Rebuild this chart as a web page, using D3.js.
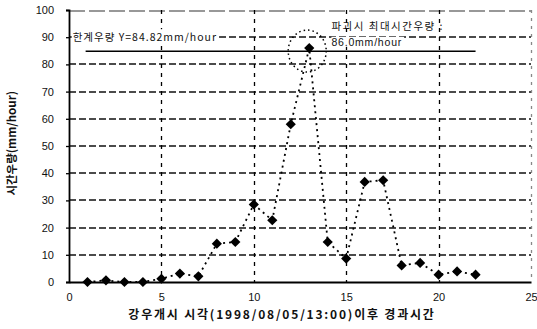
<!DOCTYPE html>
<html>
<head>
<meta charset="utf-8">
<script src="https://cdn.jsdelivr.net/npm/d3@7"></script>
<style>
  body { margin: 0; background: #fff; }
  svg { display: block; font-family: "Liberation Sans", Arial, sans-serif; }
  .kr { font-family: "Noto Sans CJK KR", "Noto Sans", sans-serif; }
</style>
</head>
<body>
<div id="chart"></div>
<script>
// elapsed hours since rain start and hourly rainfall (mm/hour)
const hours = [1, 2, 3, 4, 5, 6, 7, 8, 9, 10, 11, 12, 13, 14, 15, 16, 17, 18, 19, 20, 21, 22];
const rainfall = [0, 0.6, 0, 0, 1.2, 3.1, 2.1, 14.1, 14.7, 28.5, 22.7, 58, 86, 14.7, 8.6, 36.8, 37.4, 6.1, 7, 2.7, 3.9, 2.7];
const xTicks = [0, 5, 10, 15, 20, 25];
const yTicks = [0, 10, 20, 30, 40, 50, 60, 70, 80, 90, 100];
const threshold = 84.82;
const thresholdSpan = [0.9, 22];
const peakHour = 13;
const peakValue = 86.0;

const W = 537, H = 329;
const margin = { top: 10, right: 6, bottom: 47, left: 69 };
const width = W - margin.left - margin.right;
const height = H - margin.top - margin.bottom;

const svg = d3.select("#chart").append("svg")
  .attr("width", W).attr("height", H);
const g = svg.append("g")
  .attr("transform", `translate(${margin.left},${margin.top})`);

const x = d3.scaleLinear().domain([0, 25]).range([0, width]);
const y = d3.scaleLinear().domain([0, 100]).range([height, 0]);

// dashed grid
g.append("g").attr("class", "grid-h")
  .selectAll("line")
  .data(yTicks.filter((d) => d > 0))
  .join("line")
  .attr("x1", 0).attr("x2", width)
  .attr("y1", (d) => Math.round(y(d)) + (d === 100 ? 1 : 0))
  .attr("y2", (d) => Math.round(y(d)) + (d === 100 ? 1 : 0))
  .style("stroke", (d) => (d === 100 ? "#777" : "#111"))
  .style("stroke-width", "1.7px")
  .style("stroke-dasharray", (d) => (d === 100 ? "16,4" : "7,3"));

g.append("g").attr("class", "grid-v")
  .selectAll("line")
  .data(xTicks.filter((d) => d > 0))
  .join("line")
  .attr("x1", (d) => Math.round(x(d)) + 0.5).attr("x2", (d) => Math.round(x(d)) + 0.5)
  .attr("y1", 0).attr("y2", height)
  .style("stroke", (d) => (d === 25 ? "#888" : "#000"))
  .style("stroke-width", "1.3px")
  .style("stroke-dasharray", (d) => (d === 25 ? "3,5" : "4,5"));

// axes
const xAxis = g.append("g")
  .attr("transform", `translate(0,${height})`)
  .call(d3.axisBottom(x).tickValues(xTicks).tickSize(0).tickPadding(11));
const yAxis = g.append("g")
  .call(d3.axisLeft(y).tickValues(yTicks).tickSize(3).tickPadding(12));
[xAxis, yAxis].forEach((a) => {
  a.selectAll("text").style("font-size", "11px").attr("fill", "#111");
  a.select(".domain").attr("stroke", "#000").attr("stroke-width", 1.8);
});
yAxis.selectAll(".tick line").attr("stroke", "#000").attr("stroke-width", 1.3);

// threshold line
g.append("line")
  .attr("x1", x(thresholdSpan[0])).attr("x2", x(thresholdSpan[1]))
  .attr("y1", y(threshold)).attr("y2", y(threshold))
  .attr("stroke", "#000").attr("stroke-width", 1.6);

// threshold label on a white patch so the 90 grid line is hidden
const lbl = g.append("text")
  .attr("class", "kr")
  .attr("x", x(0.2)).attr("y", y(90) + 4)
  .style("font-size", "10.5px")
  .style("letter-spacing", "1px")
  .attr("fill", "#111")
  .text(`한계우량 Y=${threshold}mm/hour`);
const bb = lbl.node().getBBox();
g.insert("rect", () => lbl.node())
  .attr("x", bb.x - 1).attr("y", bb.y)
  .attr("width", bb.width + 3).attr("height", bb.height)
  .attr("fill", "#fff");

// dotted connecting line
const pts = hours.map((h, i) => [h, rainfall[i]]);
g.append("path")
  .datum(pts)
  .attr("fill", "none")
  .attr("stroke", "#000")
  .attr("stroke-width", 1.8)
  .attr("stroke-dasharray", "2,4")
  .attr("d", d3.line().x((d) => x(d[0])).y((d) => y(d[1])));

// diamond markers
g.selectAll("path.pt")
  .data(pts)
  .join("path")
  .attr("class", "pt")
  .attr("transform", (d) => `translate(${x(d[0])},${y(d[1])}) rotate(45)`)
  .attr("d", "M-3.6,-3.6H3.6V3.6H-3.6Z")
  .attr("fill", "#000");

// dotted circle around the peak
g.append("ellipse")
  .attr("cx", x(peakHour) - 2).attr("cy", y(peakValue) + 3)
  .attr("rx", 19).attr("ry", 21)
  .attr("fill", "none")
  .attr("stroke", "#000")
  .attr("stroke-width", 1.5)
  .attr("stroke-dasharray", "1.5,3");

// peak annotation
g.append("text")
  .attr("class", "kr")
  .attr("x", x(14.2)).attr("y", y(94) + 4)
  .style("font-size", "10.5px")
  .style("letter-spacing", "1.5px")
  .attr("fill", "#111")
  .text("파괴시 최대시간우량 :");
const ann2 = g.append("text")
  .attr("x", x(14.2)).attr("y", y(88.3) + 4)
  .style("font-size", "10.5px")
  .style("letter-spacing", "0.8px")
  .attr("fill", "#111")
  .text(`${peakValue.toFixed(1)}mm/hour`);
const bb2 = ann2.node().getBBox();
g.insert("rect", () => ann2.node())
  .attr("x", bb2.x).attr("y", bb2.y + 1)
  .attr("width", bb2.width + 2).attr("height", bb2.height - 2)
  .attr("fill", "#fff");

// axis titles
svg.append("text")
  .attr("class", "kr")
  .attr("x", 282).attr("y", 319)
  .attr("text-anchor", "middle")
  .style("font-size", "12px")
  .style("letter-spacing", "1.8px")
  .style("font-weight", "bold")
  .attr("fill", "#111")
  .text("강우개시 시각(1998/08/05/13:00)이후 경과시간");

svg.append("text")
  .attr("class", "kr")
  .attr("transform", `translate(16,${margin.top + y(51)}) rotate(-90)`)
  .attr("text-anchor", "middle")
  .style("font-size", "11.5px")
  .style("font-weight", "bold")
  .attr("fill", "#111")
  .text("시간우량(mm/hour)");
</script>
</body>
</html>
